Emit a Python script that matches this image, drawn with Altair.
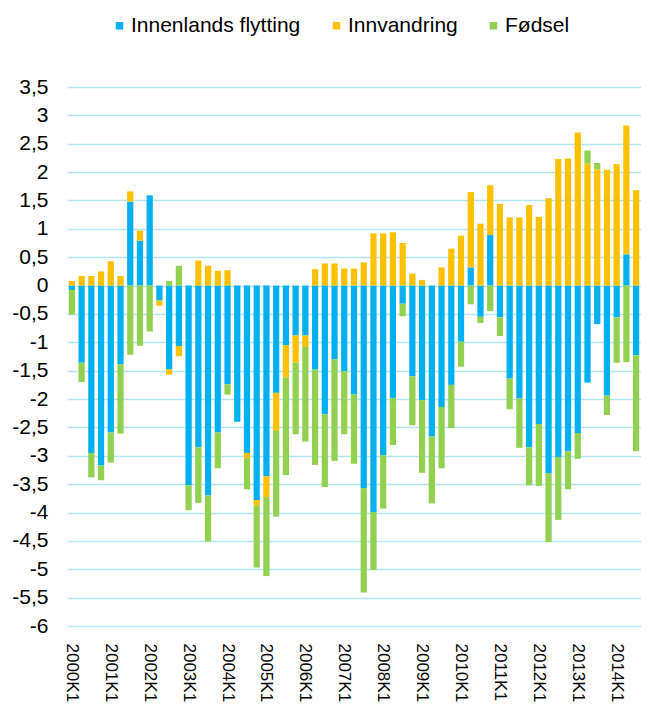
import altair as alt
import pandas as pd

years = list(range(2000, 2015))
quarters = [f"{y}K{k}" for y in years for k in range(1, 5)][:59]

innenlands = [
    -0.08, -1.36, -2.95, -3.17, -2.59, -1.39, 1.48, 0.79, 1.59, -0.265,
    -1.48, -1.065, -3.52, -2.85, -3.70, -2.59, -1.74, -2.40, -2.95, -3.78,
    -3.36, -1.89, -1.05, -0.88, -0.88, -1.48, -2.27, -1.30, -1.51, -1.92,
    -3.57, -3.99, -2.99, -1.98, -0.32, -1.60, -2.02, -2.66, -2.14, -1.75,
    -0.99, 0.32, -0.55, 0.89, -0.56, -1.64, -1.99, -2.85, -2.44, -3.31,
    -3.02, -2.92, -2.60, -1.71, -0.68, -1.94, -0.56, 0.55, -1.23,
]
innvandring = [
    0.08, 0.17, 0.17, 0.25, 0.43, 0.17, 0.18, 0.18, 0.0, -0.09,
    -0.09, -0.18, 0.0, 0.44, 0.35, 0.26, 0.27, 0.0, -0.09, -0.10,
    -0.37, -0.67, -0.57, -0.48, -0.20, 0.29, 0.39, 0.39, 0.30, 0.30,
    0.41, 0.92, 0.92, 0.94, 0.75, 0.21, 0.10, 0.0, 0.32, 0.65,
    0.88, 1.33, 1.09, 0.88, 1.44, 1.20, 1.20, 1.42, 1.21, 1.54,
    2.23, 2.24, 2.70, 2.15, 2.05, 2.04, 2.14, 2.27, 1.68,
]
fodsel = [
    -0.43, -0.34, -0.43, -0.26, -0.53, -1.22, -1.22, -1.06, -0.81, 0.0,
    0.08, 0.35, -0.44, -0.98, -0.81, -0.63, -0.18, 0.0, -0.55, -1.09,
    -1.39, -1.51, -1.72, -1.26, -1.67, -1.68, -1.28, -1.79, -1.11, -1.22,
    -1.84, -1.02, -0.94, -0.83, -0.22, -0.86, -1.28, -1.18, -1.08, -0.76,
    -0.44, -0.33, -0.11, -0.45, -0.33, -0.54, -0.87, -0.67, -1.09, -1.21,
    -1.11, -0.67, -0.45, 0.23, 0.11, -0.34, -0.80, -1.35, -1.69,
]

series = ["Innenlands flytting", "Innvandring", "Fødsel"]
colors = ["#00B0F0", "#FFC000", "#92D050"]

rows = []
for i, q in enumerate(quarters):
    for s_i, (name, vals) in enumerate(zip(series, [innenlands, innvandring, fodsel])):
        rows.append({"kvartal": q, "komponent": name, "verdi": vals[i], "rekkefolge": s_i})
df = pd.DataFrame(rows)

font = "Liberation Sans"
yticks = [v / 2 for v in range(-12, 8)]
k1_labels = [q for q in quarters if q.endswith("K1")]

chart = alt.Chart(df).mark_bar().encode(
    x=alt.X(
        "kvartal:O",
        sort=quarters,
        scale=alt.Scale(paddingInner=0.36, paddingOuter=0.18),
        axis=alt.Axis(
            title=None, values=k1_labels, labelAngle=90, labelFontSize=17,
            labelFont=font, labelColor="#000000", labelPadding=17,
            ticks=False, tickSize=0, domain=False, labelOverlap=False,
        ),
    ),
    y=alt.Y(
        "verdi:Q",
        stack="zero",
        scale=alt.Scale(domain=[-6, 3.5], nice=False, zero=False),
        axis=alt.Axis(
            title=None, values=yticks,
            labelExpr="(datum.value < 0 ? '-' : '') + replace(toString(abs(datum.value)), '.', ',')",
            grid=True, gridColor="#B4E5F7", gridWidth=1.5, domain=False,
            ticks=False, tickSize=0, labelPadding=19, labelFontSize=21,
            labelFont=font, labelColor="#000000",
        ),
    ),
    color=alt.Color(
        "komponent:N",
        scale=alt.Scale(domain=series, range=colors),
        legend=alt.Legend(
            title=None, orient="none", legendX=42, legendY=-72,
            direction="horizontal", symbolType="square", symbolSize=56,
            symbolStrokeWidth=0, labelFontSize=21, labelFont=font,
            labelColor="#000000", labelOffset=1, columnPadding=25,
            padding=0, labelLimit=300,
        ),
    ),
    order=alt.Order("rekkefolge:Q", sort="ascending"),
).properties(
    width=574,
    height=539,
    autosize=alt.AutoSizeParams(type="none"),
    padding={"left": 59, "top": 79, "right": 0, "bottom": 76},
).configure_view(stroke=None)

chart.save("out.html", embed_options={"renderer": "svg", "actions": False})
